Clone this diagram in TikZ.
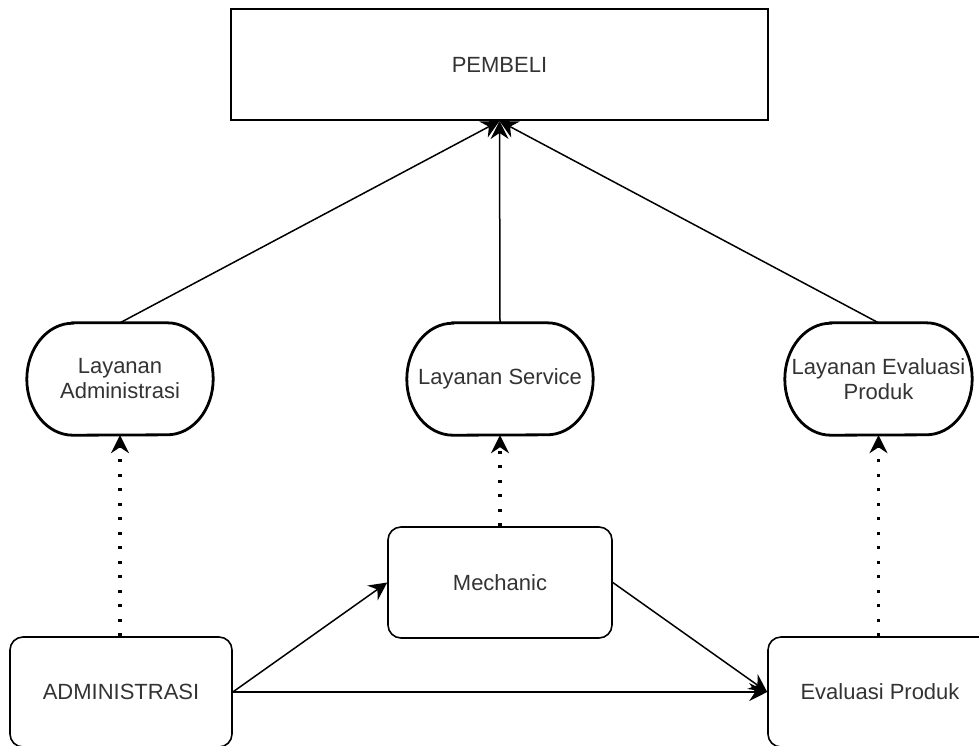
\documentclass[tikz,border=0pt]{standalone}
\usepackage{fontspec}
\setmainfont{Liberation Sans}
\usetikzlibrary{arrows.meta}
\definecolor{txt}{HTML}{333333}
\newcommand\drawstadium[1]{%
  \draw[stad] ([xshift=46pt]#1.north west) -- ([xshift=-46pt]#1.north east)
    arc[start angle=90,end angle=-90,x radius=46pt,y radius=56pt]
    -- ([xshift=46pt]#1.south west)
    arc[start angle=270,end angle=90,x radius=46pt,y radius=56pt] -- cycle;}
\begin{document}
\begin{tikzpicture}[x=1pt,y=-1pt,
  every node/.style={font=\fontsize{22}{25}\selectfont, text=txt, align=center, inner sep=0pt},
  pbox/.style={draw=black, line width=2pt},
  rbox/.style={draw=black, line width=1.6pt, rounded corners=13pt},
  stadnode/.style={minimum width=186pt, minimum height=112pt},
  stad/.style={draw=black, line width=2.8pt},
  solidarr/.style={line width=1.5pt, -{Stealth[length=18pt,width=18pt,inset=6pt]}},
  dotarr/.style={line width=3.2pt, dash pattern=on 3.2pt off 11.3pt, -{Stealth[length=18pt,width=18pt,inset=6pt]}}]
\useasboundingbox (0,0) rectangle (979,745);

\node[pbox, minimum width=537pt, minimum height=111pt] (P) at (499.5,64.5) {PEMBELI};

\node[stadnode] (LA) at (120,379) {Layanan\\Administrasi};
\node[stadnode] (LS) at (500,379) {Layanan Service};
\node[stadnode, minimum width=187pt] (LE) at (878.5,379) {Layanan Evaluasi\\Produk};
\drawstadium{LA}
\drawstadium{LS}
\drawstadium{LE}

\node[rbox, minimum width=224pt, minimum height=111pt] (M) at (500,582.5) {Mechanic};
\node[rbox, minimum width=222pt, minimum height=110pt] (A) at (121,692) {ADMINISTRASI};
\node[rbox, minimum width=224pt, minimum height=110pt] (E) at (880,692) {Evaluasi Produk};

\draw[solidarr] (LA.north) -- (P.south);
\draw[solidarr] (LS.north) -- (P.south);
\draw[solidarr] (LE.north) -- (P.south);

\draw[dotarr] (A.north -| LA.south) -- (LA.south);
\draw[dotarr] (M.north -| LS.south) -- (LS.south);
\draw[dotarr] (E.north -| LE.south) -- (LE.south);

\draw[solidarr] (A.east) -- (M.west);
\draw[solidarr] (A.east) -- (E.west);
\draw[solidarr] (M.east) -- (E.west);
\end{tikzpicture}
\end{document}
